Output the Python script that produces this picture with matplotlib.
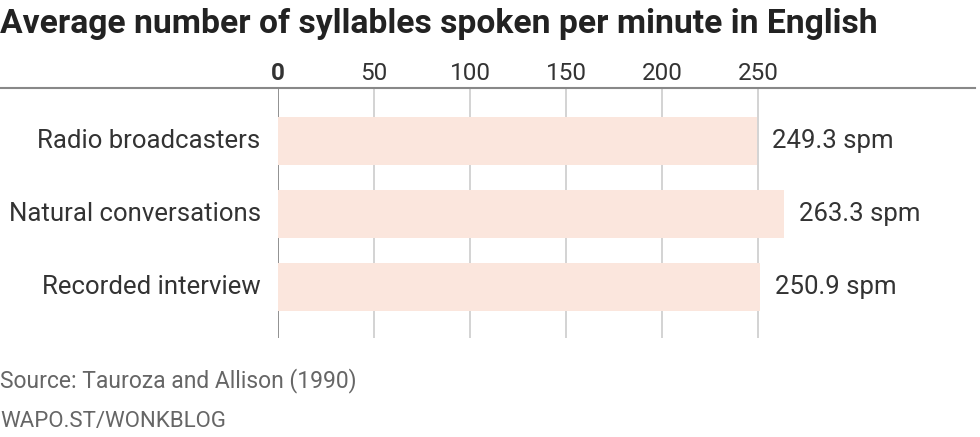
import matplotlib.pyplot as plt
from matplotlib.lines import Line2D

categories = ['Radio broadcasters', 'Natural conversations', 'Recorded interview']
spm = [249.3, 263.3, 250.9]
ticks = [0, 50, 100, 150, 200, 250]

plt.rcParams['font.family'] = ['Roboto', 'DejaVu Sans']

fig = plt.figure(figsize=(9.8, 4.37), dpi=100)
fig.patch.set_facecolor('white')

# axes: x=0 at 278px, 1.92 px per unit, top at 88px, bottom at 338px
ax = fig.add_axes([278 / 980, 1 - 338 / 437, (960 - 278) / 980, 250 / 437])
ax.set_xlim(0, (960 - 278) / 1.92)
ax.set_ylim(2.70, -0.726)

for t in ticks:
    ax.axvline(t, color='#888888' if t == 0 else '#d0d0d0', lw=1.3, zorder=1)

ax.barh(range(len(categories)), spm, height=0.66, color='#fbe6dd', zorder=2)

for i, v in enumerate(spm):
    ax.text(v + 8, i, f'{v} spm', va='center', ha='left', fontsize=18.5, color='#333333')
    ax.text(-9, i, categories[i], va='center', ha='right', fontsize=18.5, color='#333333')

for t in ticks:
    ax.text(t, -0.92, str(t), ha='center', va='center', fontsize=17.5, color='#333333',
            fontweight='bold' if t == 0 else 'normal')

ax.set_xticks([])
ax.set_yticks([])
for s in ax.spines.values():
    s.set_visible(False)

fig.add_artist(Line2D([0, 0.995], [1 - 88 / 437, 1 - 88 / 437], color='#888888', lw=1.5))

fig.text(0.0, 1 - 33 / 437, 'Average number of syllables spoken per minute in English',
         fontsize=24.2, fontweight='bold', color='#222222', va='baseline', ha='left')
fig.text(0.0, 1 - 387 / 437, 'Source: Tauroza and Allison (1990)', fontsize=16.5,
         color='#666666', va='baseline', ha='left')
fig.text(0.0, 1 - 427 / 437, 'WAPO.ST/WONKBLOG', fontsize=16,
         color='#666666', va='baseline', ha='left')

fig.savefig('out.png', dpi=100)
